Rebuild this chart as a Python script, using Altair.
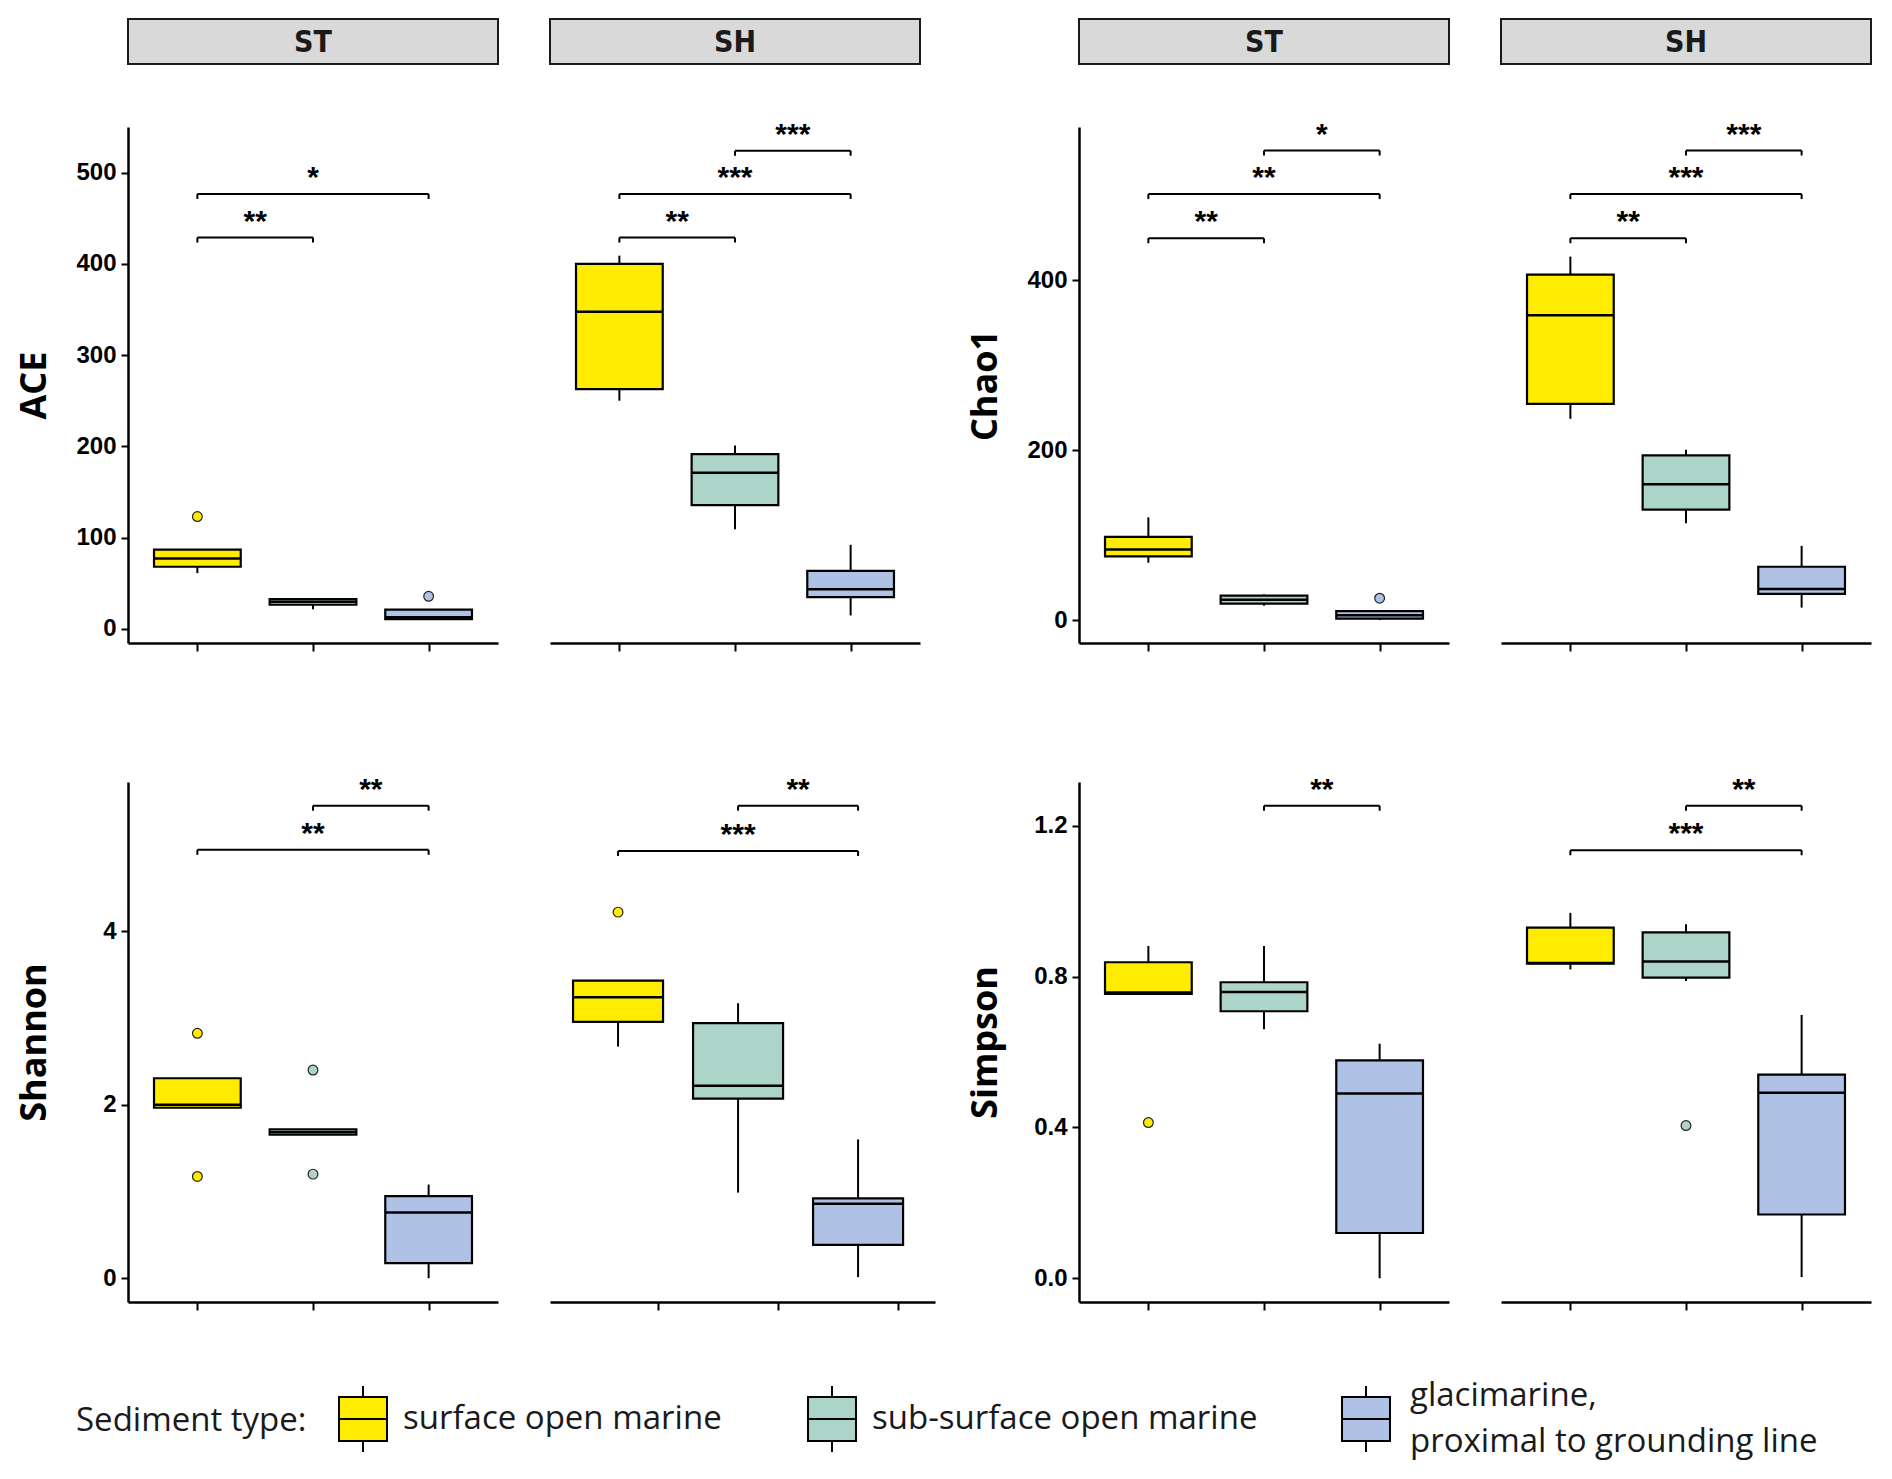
import altair as alt
import pandas as pd

TYPES = ["surface open marine", "sub-surface open marine",
         "glacimarine, proximal to grounding line"]
TYPE_COLORS = ["#FFEC00", "#ADD4C9", "#AFC1E4"]
SITES = ["ST", "SH"]
POS = [1, 2, 3]

# order of the six boxes: ST surface, ST sub-surface, ST glacimarine,
#                         SH surface, SH sub-surface, SH glacimarine
ACE_LO = [61, 21.4, 10.5, 250, 109, 14.6]
ACE_Q1 = [68, 26.3, 10.5, 262.7, 135.5, 34.6]
ACE_MED = [77, 29.7, 12.5, 347.5, 171, 43.4]
ACE_Q3 = [86.7, 32.6, 21, 400, 191.5, 63.4]
ACE_HI = [86.7, 32.6, 21, 409, 200.8, 92]
ACE_OUT_SITE = ["ST", "ST"]
ACE_OUT_POS = [1, 3]
ACE_OUT_VAL = [123, 35.6]
ACE_BR_SITE = ["ST", "ST", "SH", "SH", "SH"]
ACE_BR_FROM = [1, 1, 1, 1, 2]
ACE_BR_TO = [2, 3, 2, 3, 3]
ACE_BR_Y = [428.8, 476.6, 428.8, 476.6, 524]
ACE_BR_LABEL = ["**", "*", "**", "***", "***"]
ACE_DOMAIN = [-15.6, 550]
ACE_TICKS = [0, 100, 200, 300, 400, 500]

CHAO_LO = [67.5, 17, 0, 237, 114, 14.7]
CHAO_Q1 = [74.9, 19.4, 1.6, 254.5, 130, 30.9]
CHAO_MED = [83.2, 24, 5.8, 359, 160, 36.6]
CHAO_Q3 = [97.9, 28.8, 10.5, 406.8, 194, 62.8]
CHAO_HI = [121, 30, 10.5, 428, 200.5, 87.4]
CHAO_OUT_SITE = ["ST"]
CHAO_OUT_POS = [3]
CHAO_OUT_VAL = [25.7]
CHAO_BR_SITE = ["ST", "ST", "ST", "SH", "SH", "SH"]
CHAO_BR_FROM = [1, 1, 2, 1, 1, 2]
CHAO_BR_TO = [2, 3, 3, 2, 3, 3]
CHAO_BR_Y = [449.7, 501.6, 552.9, 449.7, 501.6, 552.9]
CHAO_BR_LABEL = ["**", "**", "*", "**", "***", "***"]
CHAO_DOMAIN = [-27, 580.6]
CHAO_TICKS = [0, 200, 400]

SHAN_LO = [1.965, 1.655, 0, 2.67, 0.987, 0.013]
SHAN_Q1 = [1.965, 1.655, 0.173, 2.956, 2.07, 0.385]
SHAN_MED = [2.0, 1.686, 0.757, 3.24, 2.22, 0.858]
SHAN_Q3 = [2.305, 1.717, 0.947, 3.43, 2.94, 0.92]
SHAN_HI = [2.305, 1.717, 1.08, 3.43, 3.17, 1.60]
SHAN_OUT_SITE = ["ST", "ST", "ST", "ST", "SH"]
SHAN_OUT_POS = [1, 1, 2, 2, 1]
SHAN_OUT_VAL = [2.823, 1.173, 2.40, 1.20, 4.22]
SHAN_BR_SITE = ["ST", "ST", "SH", "SH"]
SHAN_BR_FROM = [2, 1, 2, 1]
SHAN_BR_TO = [3, 3, 3, 3]
SHAN_BR_Y = [5.447, 4.938, 5.447, 4.925]
SHAN_BR_LABEL = ["**", "**", "**", "***"]
SHAN_DOMAIN = [-0.274, 5.72]
SHAN_TICKS = [0, 2, 4]

SIMP_LO = [0.754, 0.66, 0, 0.819, 0.788, 0.003]
SIMP_Q1 = [0.754, 0.708, 0.12, 0.834, 0.797, 0.169]
SIMP_MED = [0.758, 0.759, 0.49, 0.836, 0.84, 0.492]
SIMP_Q3 = [0.838, 0.785, 0.578, 0.93, 0.917, 0.54]
SIMP_HI = [0.881, 0.881, 0.622, 0.969, 0.939, 0.698]
SIMP_OUT_SITE = ["ST", "SH"]
SIMP_OUT_POS = [1, 2]
SIMP_OUT_VAL = [0.413, 0.405]
SIMP_BR_SITE = ["ST", "SH", "SH"]
SIMP_BR_FROM = [2, 2, 1]
SIMP_BR_TO = [3, 3, 3]
SIMP_BR_Y = [1.253, 1.253, 1.135]
SIMP_BR_LABEL = ["**", "**", "***"]
SIMP_DOMAIN = [-0.063, 1.316]
SIMP_TICKS = [0.0, 0.4, 0.8, 1.2]

X_DOMAIN = [0.4, 3.6]
X_TICKS = [1, 2, 3]
# the Shannon SH panel in the source figure is slightly wider, with its ticks shifted
SHAN_SH_X_DOMAIN = [0.433, 3.641]
SHAN_SH_X_TICKS = [1.329, 2.329, 3.333]

METRICS = {
    "ACE": dict(lo=ACE_LO, q1=ACE_Q1, med=ACE_MED, q3=ACE_Q3, hi=ACE_HI,
                out_site=ACE_OUT_SITE, out_pos=ACE_OUT_POS, out_val=ACE_OUT_VAL,
                br_site=ACE_BR_SITE, br_from=ACE_BR_FROM, br_to=ACE_BR_TO,
                br_y=ACE_BR_Y, br_label=ACE_BR_LABEL,
                domain=ACE_DOMAIN, ticks=ACE_TICKS, fmt="d"),
    "Chao1": dict(lo=CHAO_LO, q1=CHAO_Q1, med=CHAO_MED, q3=CHAO_Q3, hi=CHAO_HI,
                  out_site=CHAO_OUT_SITE, out_pos=CHAO_OUT_POS, out_val=CHAO_OUT_VAL,
                  br_site=CHAO_BR_SITE, br_from=CHAO_BR_FROM, br_to=CHAO_BR_TO,
                  br_y=CHAO_BR_Y, br_label=CHAO_BR_LABEL,
                  domain=CHAO_DOMAIN, ticks=CHAO_TICKS, fmt="d"),
    "Shannon": dict(lo=SHAN_LO, q1=SHAN_Q1, med=SHAN_MED, q3=SHAN_Q3, hi=SHAN_HI,
                    out_site=SHAN_OUT_SITE, out_pos=SHAN_OUT_POS, out_val=SHAN_OUT_VAL,
                    br_site=SHAN_BR_SITE, br_from=SHAN_BR_FROM, br_to=SHAN_BR_TO,
                    br_y=SHAN_BR_Y, br_label=SHAN_BR_LABEL,
                    domain=SHAN_DOMAIN, ticks=SHAN_TICKS, fmt="d"),
    "Simpson": dict(lo=SIMP_LO, q1=SIMP_Q1, med=SIMP_MED, q3=SIMP_Q3, hi=SIMP_HI,
                    out_site=SIMP_OUT_SITE, out_pos=SIMP_OUT_POS, out_val=SIMP_OUT_VAL,
                    br_site=SIMP_BR_SITE, br_from=SIMP_BR_FROM, br_to=SIMP_BR_TO,
                    br_y=SIMP_BR_Y, br_label=SIMP_BR_LABEL,
                    domain=SIMP_DOMAIN, ticks=SIMP_TICKS, fmt=".1f"),
}

# box-and-whisker legend glyphs (unit symbol space)
BOX_PATH = ("M-0.727,-0.667H0.727V0.667H-0.727Z M-0.727,0H0.727 "
            "M0,-0.667V-1 M0,0.667V1")
# same glyph drawn lower, so it sits centred on a two-line label
BOX_PATH_LOW = ("M-0.727,0.03H0.727V1.364H-0.727Z M-0.727,0.697H0.727 "
                "M0,0.03V-0.303 M0,1.364V1.697")

COLOR_SCALE = alt.Scale(domain=TYPES, range=TYPE_COLORS)
# same mapping, listed in reverse so that its legend stays a separate one
FILL_SCALE = alt.Scale(domain=TYPES[::-1], range=TYPE_COLORS[::-1])

LEGEND_COMMON = dict(
    orient="none", direction="horizontal",
    labelFont="Open Sans", labelFontSize=33, labelColor="#1a1a1a",
    labelLimit=0, padding=0, symbolSize=4356, symbolStrokeColor="black",
    symbolStrokeWidth=2, symbolOpacity=1,
)

LEGEND_A = alt.Legend(
    title="Sediment type:", legendX=-52, legendY=1366, values=TYPES[:2],
    titleOrient="left", titleAnchor="middle", titleBaseline="middle",
    titleFont="Open Sans", titleFontSize=33, titleFontWeight="normal",
    titleColor="#1a1a1a", titlePadding=22, titleLimit=0,
    labelOffset=6, columnPadding=76, symbolType=BOX_PATH, **LEGEND_COMMON,
)

LEGEND_B = alt.Legend(
    title=None, legendX=1204, legendY=1343, values=TYPES[2:],
    labelOffset=10, symbolType=BOX_PATH_LOW,
    labelExpr="split(replace(datum.label, ', ', ',|'), '|')", **LEGEND_COMMON,
)

PANEL_H_TOP = 516
PANEL_H_BOT = 520
PANEL_W = 370


def panel(name, site, show_y, height, width=PANEL_W, xdomain=X_DOMAIN,
          xticks=X_TICKS, legend=False):
    m = METRICS[name]
    k = 0 if site == "ST" else 3
    box = pd.DataFrame({
        "type": TYPES, "pos": POS,
        "lo": m["lo"][k:k + 3], "q1": m["q1"][k:k + 3], "med": m["med"][k:k + 3],
        "q3": m["q3"][k:k + 3], "hi": m["hi"][k:k + 3],
    })
    out = pd.DataFrame({"site": m["out_site"], "pos": m["out_pos"], "val": m["out_val"]})
    out = out[out["site"] == site].copy()
    out["kind"] = [TYPES[p - 1] for p in out["pos"]]
    br = pd.DataFrame({"site": m["br_site"], "a": m["br_from"], "b": m["br_to"],
                       "v": m["br_y"], "lab": m["br_label"]})
    br = br[br["site"] == site]

    xs = alt.Scale(domain=xdomain, nice=False, zero=False)
    ys = alt.Scale(domain=m["domain"], nice=False, zero=False)
    xaxis = alt.Axis(values=xticks, labels=False, title=None, grid=False,
                     domainColor="black", domainWidth=2.5, tickColor="black",
                     tickWidth=2, tickSize=8)
    if show_y:
        yaxis = alt.Axis(values=m["ticks"], format=m["fmt"], title=name, grid=False,
                         domainColor="black", domainWidth=2.5, tickColor="black",
                         tickWidth=2, tickSize=7, labelFont="Liberation Sans",
                         labelFontSize=24, labelFontWeight="bold", labelColor="black",
                         labelPadding=5, titleFont="Open Sans", titleFontSize=36,
                         titleFontWeight="bold", titleColor="black", titleAngle=270,
                         titleX=-94, titleY=height / 2, titleAlign="center",
                         titleBaseline="middle")
    else:
        yaxis = None

    def X(f):
        return alt.X(f, type="quantitative", scale=xs, axis=xaxis)

    def Y(f):
        return alt.Y(f, type="quantitative", scale=ys, axis=yaxis)

    bb = alt.Chart(box).transform_calculate(
        xl="datum.pos - 0.375", xr="datum.pos + 0.375")
    whisk = bb.mark_rule(color="black", strokeWidth=2).encode(
        x=X("pos"), y=Y("lo"), y2="hi:Q")
    bars = bb.mark_bar(stroke="black", strokeWidth=2.2, opacity=1).encode(
        x=X("xl"), x2="xr:Q", y=Y("q1"), y2="q3:Q",
        color=alt.Color("type:N", scale=COLOR_SCALE,
                        legend=LEGEND_A if legend else None))
    med = bb.mark_rule(color="black", strokeWidth=2.5).encode(
        x=X("xl"), x2="xr:Q", y=Y("med"))
    layers = [whisk, bars, med]
    if len(out):
        pts = alt.Chart(out).mark_circle(size=95, stroke="#222222", strokeWidth=1.2,
                                         opacity=1).encode(
            x=X("pos"), y=Y("val"),
            fill=alt.Fill("kind:N", scale=FILL_SCALE,
                          legend=LEGEND_B if legend else None))
        layers.append(pts)
    bc = alt.Chart(br).transform_calculate(mid="(datum.a + datum.b) / 2")
    hline = bc.mark_rule(color="black", strokeWidth=2).encode(
        x=X("a"), x2="b:Q", y=Y("v"))
    lend = bc.mark_rule(color="black", strokeWidth=2, y2Offset=5).encode(
        x=X("a"), y=Y("v"), y2="v:Q")
    rend = bc.mark_rule(color="black", strokeWidth=2, y2Offset=5).encode(
        x=X("b"), y=Y("v"), y2="v:Q")
    txt = bc.mark_text(font="Liberation Sans", fontSize=30, fontWeight="bold",
                       color="black", baseline="alphabetic", dy=-7).encode(
        x=X("mid"), y=Y("v"), text="lab:N")
    layers += [hline, lend, rend, txt]
    return alt.layer(*layers).properties(width=width, height=height)


STRIP_FONT = "'Liberation Sans Narrow', 'DejaVu Sans Condensed', 'Liberation Sans', sans-serif"


def strip(label):
    return alt.Chart(pd.DataFrame({"s": [label]})).mark_text(
        font=STRIP_FONT, fontSize=30, fontWeight="bold",
        color="#1a1a1a", dy=1).encode(text="s:N").properties(
        width=PANEL_W, height=45,
        view=alt.ViewBackground(fill="#d9d9d9", stroke="#1a1a1a", strokeWidth=2))


def spacer(w, h):
    return alt.Chart(pd.DataFrame({"s": [""]})).mark_text().encode(
        text="s:N").properties(width=w, height=h)


GAP_W = 40
cells = [
    strip("ST"), strip("SH"), spacer(GAP_W, 45), strip("ST"), strip("SH"),
    panel("ACE", "ST", True, PANEL_H_TOP, legend=True),
    panel("ACE", "SH", False, PANEL_H_TOP),
    spacer(GAP_W, PANEL_H_TOP),
    panel("Chao1", "ST", True, PANEL_H_TOP),
    panel("Chao1", "SH", False, PANEL_H_TOP),
    spacer(10, 13), spacer(10, 13), spacer(GAP_W, 13), spacer(10, 13), spacer(10, 13),
    panel("Shannon", "ST", True, PANEL_H_BOT),
    panel("Shannon", "SH", False, PANEL_H_BOT, width=385,
          xdomain=SHAN_SH_X_DOMAIN, xticks=SHAN_SH_X_TICKS),
    spacer(GAP_W, PANEL_H_BOT),
    panel("Simpson", "ST", True, PANEL_H_BOT),
    panel("Simpson", "SH", False, PANEL_H_BOT),
]

chart = alt.concat(
    *cells, columns=5, spacing={"row": 63, "column": 52},
    align="each", bounds="flush",
).properties(
    padding={"left": 7, "top": 10, "right": 5, "bottom": 5},
).configure(
    background="white",
    style={"guide-label": {"lineHeight": 46}},
).configure_view(stroke="transparent")

chart.save("out.html", embed_options={"renderer": "svg", "actions": False})
